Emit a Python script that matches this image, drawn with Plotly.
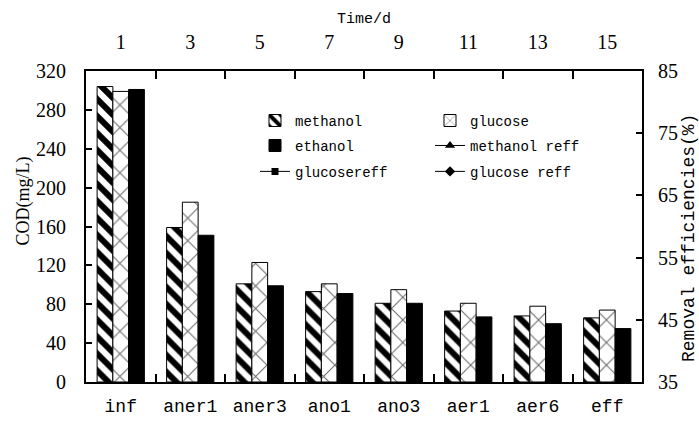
import plotly.graph_objects as go

stages = ["inf", "aner1", "aner3", "ano1", "ano3", "aer1", "aer6", "eff"]
days = ["1", "3", "5", "7", "9", "11", "13", "15"]
methanol = [304, 159, 101, 93, 81, 73, 68, 66]
glucose = [299, 185, 123, 101, 95, 81, 78, 74]
ethanol = [301, 151, 99, 91, 81, 67, 60, 55]
# removal efficiency series appear in legend only (no visible points in range)
methanol_reff = [None] * 8
glucosereff = [None] * 8
glucose_reff = [None] * 8

MONO = "Liberation Mono"
SERIF = "Liberation Serif"

fig = go.Figure()

fig.add_trace(go.Bar(
    x=stages, y=methanol, name="methanol", legend="legend",
    marker=dict(color="white", line=dict(color="black", width=1),
                pattern=dict(shape="\\", fgcolor="black", bgcolor="white",
                             size=12, solidity=0.5, fillmode="replace")),
))
fig.add_trace(go.Bar(
    x=stages, y=glucose, name="glucose", legend="legend",
    marker=dict(color="white", line=dict(color="black", width=1),
                pattern=dict(shape="x", fgcolor="#666666", bgcolor="white",
                             size=16, solidity=0.12, fillmode="replace")),
))
fig.add_trace(go.Bar(
    x=stages, y=ethanol, name="ethanol", legend="legend2",
    marker=dict(color="black", line=dict(color="black", width=1)),
))
fig.add_trace(go.Scatter(
    x=days, y=methanol_reff, name="methanol reff", legend="legend2",
    xaxis="x2", yaxis="y2", mode="lines+markers",
    line=dict(color="black", width=1),
    marker=dict(symbol="triangle-up", size=9, color="black"),
))
fig.add_trace(go.Scatter(
    x=days, y=glucosereff, name="glucosereff", legend="legend3",
    xaxis="x2", yaxis="y2", mode="lines+markers",
    line=dict(color="black", width=1),
    marker=dict(symbol="square", size=7, color="black"),
))
fig.add_trace(go.Scatter(
    x=days, y=glucose_reff, name="glucose reff", legend="legend3",
    xaxis="x2", yaxis="y2", mode="lines+markers",
    line=dict(color="black", width=1),
    marker=dict(symbol="diamond", size=8, color="black"),
))

L, R, T, B = 86, 57, 71, 34
W, H = 699, 429
ph = H - T - B

def ypaper(px):
    return (H - B - px) / ph

def xpaper(px):
    return (px - L) / (W - L - R)

leg_common = dict(orientation="h", entrywidth=130, entrywidthmode="pixels",
                  font=dict(family=MONO, size=14, color="black"),
                  bgcolor="rgba(0,0,0,0)", borderwidth=0,
                  xanchor="left", yanchor="middle", itemwidth=30)

fig.update_layout(
    width=W, height=H,
    margin=dict(l=L, r=R, t=T, b=B),
    paper_bgcolor="white", plot_bgcolor="white",
    barmode="group", bargap=0.32, bargroupgap=0,
    font=dict(family=SERIF, color="black"),
    legend=dict(x=xpaper(255), y=ypaper(123), **leg_common),
    legend2=dict(x=xpaper(255), y=ypaper(149), **leg_common),
    legend3=dict(x=xpaper(255), y=ypaper(176), **leg_common),
    xaxis=dict(type="category", categoryarray=stages, range=[-0.5, 7.5],
               tickson="boundaries", ticks="inside", ticklen=8, tickwidth=1.5,
               tickcolor="black", showline=True, linecolor="black", linewidth=2,
               showgrid=False, ticklabelstandoff=6,
               tickfont=dict(family=MONO, size=18, color="black")),
    xaxis2=dict(type="category", categoryarray=days, range=[-0.5, 7.5],
                overlaying="x", side="top", anchor="y",
                tickson="boundaries", ticks="inside", ticklen=8, tickwidth=1.5,
                tickcolor="black", showline=True, linecolor="black", linewidth=2,
                showgrid=False, ticklabelstandoff=12,
                tickfont=dict(family=SERIF, size=20, color="black")),
    yaxis=dict(range=[0, 320], dtick=40, tick0=0, ticks="inside", ticklen=6,
               tickwidth=1.5, tickcolor="black", showline=True, linecolor="black",
               linewidth=2, showgrid=False, zeroline=False, ticklabelstandoff=14,
               tickfont=dict(family=SERIF, size=20, color="black")),
    yaxis2=dict(range=[35, 85], dtick=10, tick0=35, overlaying="y", side="right",
                anchor="x", ticks="inside", ticklen=6, tickwidth=1.5,
                tickcolor="black", showline=True, linecolor="black", linewidth=2,
                showgrid=False, zeroline=False, ticklabelstandoff=10,
                tickfont=dict(family=SERIF, size=20, color="black")),
    annotations=[
        dict(text="Time/d", x=0.5, xref="paper", y=ypaper(17), yref="paper",
             showarrow=False, font=dict(family=MONO, size=15, color="black"),
             xanchor="center", yanchor="middle"),
        dict(text="COD(mg/L)", x=xpaper(24), xref="paper", y=ypaper(207),
             yref="paper", showarrow=False, textangle=-90,
             font=dict(family=SERIF, size=18, color="black"),
             xanchor="center", yanchor="middle"),
        dict(text="Removal efficiencies(%)", x=xpaper(689), xref="paper",
             y=ypaper(245), yref="paper", showarrow=False, textangle=-90,
             font=dict(family=MONO, size=18, color="black"),
             xanchor="center", yanchor="middle"),
    ],
)

fig.write_html("out.html")
